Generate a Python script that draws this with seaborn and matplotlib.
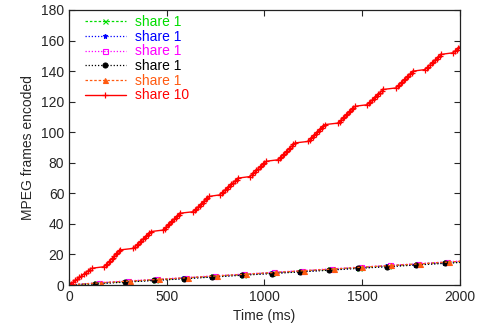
import matplotlib
matplotlib.use("Agg")
import matplotlib.pyplot as plt
import seaborn as sns
import pandas as pd

# share 10 process: time (ms) at which each frame was finished, frame count = index
red_times = [
    0, 11, 21, 32, 42, 53, 63, 74, 84, 95, 105, 116,
    180, 187, 195, 202, 209, 217, 224, 231, 239, 246, 254, 261,
    329, 337, 345, 354, 362, 370, 378, 386, 394, 403, 411, 419,
    482, 490, 498, 505, 513, 521, 529, 537, 545, 552, 560, 568,
    636, 644, 652, 660, 668, 676, 684, 692, 700, 708, 716,
    771, 780, 788, 797, 806, 814, 823, 831, 840, 849, 857, 866,
    926, 934, 942, 951, 959, 967, 975, 983, 992, 1000, 1008,
    1071, 1079, 1086, 1094, 1102, 1110, 1117, 1125, 1133, 1140, 1148, 1156,
    1224, 1232, 1239, 1247, 1255, 1263, 1270, 1278, 1286, 1293, 1301, 1309,
    1377, 1385, 1393, 1400, 1408, 1416, 1424, 1432, 1440, 1447, 1455, 1463,
    1526, 1534, 1542, 1551, 1559, 1567, 1575, 1583, 1592, 1600, 1608,
    1673, 1681, 1689, 1697, 1705, 1713, 1721, 1729, 1737, 1745, 1753, 1761,
    1821, 1830, 1838, 1847, 1855, 1864, 1872, 1881, 1889, 1898, 1906,
    1966, 1975, 1984, 1993, 2002,
]
red_frames = list(range(len(red_times)))

# share 1 processes (five of them)
green_t = [0, 138, 290, 440, 590, 736, 888, 1040, 1186, 1334, 1482, 1632, 1780, 1928, 2076]
green_f = [0, 1.2, 2.3, 3.4, 4.6, 5.7, 6.9, 8.0, 9.1, 10.3, 11.4, 12.6, 13.7, 14.9, 16.0]
blue_t = [0, 131, 284, 434, 583, 728, 881, 1033, 1178, 1328, 1476, 1624, 1772, 1920, 2068]
blue_f = [0, 1.0, 2.1, 3.2, 4.3, 5.4, 6.6, 7.7, 8.8, 9.9, 11.1, 12.2, 13.3, 14.4, 15.5]
pink_t = [0, 152, 300, 450, 600, 746, 897, 1050, 1194, 1344, 1492, 1640, 1788, 1936, 2084]
pink_f = [0, 1.6, 2.7, 3.8, 4.9, 6.1, 7.2, 8.4, 9.5, 10.6, 11.8, 12.9, 14.0, 15.2, 16.3]
black_t = [0, 133, 287, 437, 586, 730, 884, 1037, 1182, 1330, 1478, 1628, 1776, 1924, 2072]
black_f = [0, 0.8, 1.9, 3.0, 4.1, 5.2, 6.4, 7.5, 8.6, 9.7, 10.9, 12.0, 13.1, 14.2, 15.3]
orange_t = [0, 162, 310, 460, 610, 756, 906, 1060, 1204, 1354, 1500, 1650, 1798, 1946, 2094]
orange_f = [0, 1.5, 2.6, 3.7, 4.8, 6.0, 7.1, 8.3, 9.4, 10.5, 11.7, 12.8, 13.9, 15.1, 16.2]

labels = ["share 1", "share 1", "share 1", "share 1", "share 1", "share 10"]

sns.set_style("ticks")
plt.rcParams["font.family"] = ["Liberation Sans", "DejaVu Sans"]

fig, ax = plt.subplots(figsize=(4.8, 3.33), dpi=100)
fig.subplots_adjust(left=0.144, right=0.958, top=0.97, bottom=0.144)

series = [
    (green_t, green_f, "#00dd00", "x", (0, (2, 1.5)), "#00dd00"),
    (blue_t, blue_f, "#0000ff", "*", (0, (1, 1.5)), "#0000ff"),
    (pink_t, pink_f, "#ff00ff", "s", (0, (1, 1.5)), "none"),
    (black_t, black_f, "#000000", "o", (0, (1, 1.5)), "#000000"),
    (orange_t, orange_f, "#ff5a10", "^", (0, (2, 1.5)), "#ff5a10"),
]
for (t, f, col, mk, ls, fc), lab in zip(series, labels[:5]):
    df = pd.DataFrame({"t": t, "f": f})
    sns.lineplot(data=df, x="t", y="f", ax=ax, color=col, marker=mk, linestyle=ls,
                 linewidth=0.9, markersize=3.6, markerfacecolor=fc,
                 markeredgecolor=col, markeredgewidth=0.8, label=lab, sort=False)

dfr = pd.DataFrame({"t": red_times, "f": red_frames})
sns.lineplot(data=dfr, x="t", y="f", ax=ax, color="#ff0000", marker="+",
             linestyle="-", linewidth=1.0, markersize=4.5, markeredgewidth=0.9,
             markeredgecolor="#ff0000", label=labels[5], sort=False)

ax.set_xlim(0, 2000)
ax.set_ylim(0, 180)
ax.set_xticks([0, 500, 1000, 1500, 2000])
ax.set_yticks(range(0, 181, 20))
ax.set_xlabel("Time (ms)", fontsize=10)
ax.set_ylabel("MPEG frames encoded", fontsize=10)
ax.tick_params(direction="in", top=True, right=True, labelsize=10, length=4, width=0.8)
for sp in ax.spines.values():
    sp.set_visible(True)
    sp.set_linewidth(0.9)
    sp.set_color("#222222")

leg = ax.legend(loc="upper left", bbox_to_anchor=(0.02, 1.012), frameon=False,
                fontsize=10, handlelength=2.9, handletextpad=0.7,
                labelspacing=0.05, borderaxespad=0.2, labelcolor="linecolor")

fig.savefig("out.png", dpi=100)
